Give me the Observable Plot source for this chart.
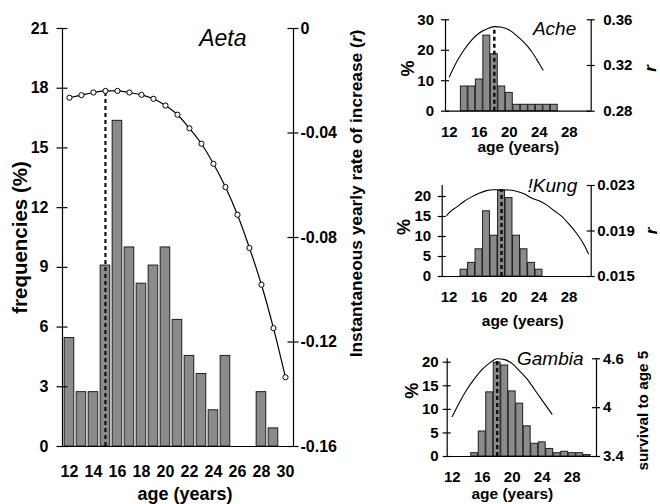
<!DOCTYPE html>
<html><head><meta charset="utf-8">
<script src="https://cdn.jsdelivr.net/npm/d3@7"></script>
<script src="https://cdn.jsdelivr.net/npm/@observablehq/plot@0.6"></script>
<style>
body{margin:0;background:#fff;}
#chart{position:relative;width:660px;height:504px;background:#fff;}
#chart svg{position:absolute;left:0;top:0;}
</style></head><body><div id="chart"></div>
<script>
// ---------- DATA ----------
// Aeta (main panel)
const aetaAges = [12,13,14,15,16,17,18,19,20,21,22,23,24,25,26,27,28,29];
const aetaFreq = [5.45,2.73,2.73,9.09,16.36,10.0,8.18,9.09,10.0,6.36,4.55,3.64,1.82,4.55,0,0,2.73,0.91];
const aetaRAges = [12,13,14,15,16,17,18,19,20,21,22,23,24,25,26,27,28,29,30];
const aetaR = [-0.0265,-0.0255,-0.0245,-0.0239,-0.0239,-0.0245,-0.0254,-0.0269,-0.0295,-0.0330,-0.0382,-0.0441,-0.0518,-0.0607,-0.0713,-0.0840,-0.0981,-0.1147,-0.1335];
const aetaPeak = 15;
const aetaLeftTicks = [0,3,6,9,12,15,18,21];
const aetaRightTicks = [-0.16,-0.12,-0.08,-0.04,0];
const aetaXTicks = [12,14,16,18,20,22,24,26,28,30];

// Ache
const acheAges = [14,15,16,17,18,19,20,21,22,23,24,25,26];
const acheFreq = [8.1,8.1,10.4,24.8,18.7,8.1,6.0,2.1,2.1,2.1,2.1,2.1,2.1];
const acheRAges = [12,13,14,15,16,17,18,19,20,21,22,23,24,24.5];
const acheR = [0.310,0.3235,0.334,0.3425,0.3485,0.352,0.354,0.3535,0.351,0.346,0.340,0.332,0.3215,0.316];
const achePeak = 18;
const acheLeftTicks = [0,10,20,30];
const acheRightTicks = [0.28,0.32,0.36];

// !Kung
const kungAges = [14,15,16,17,18,19,20,21,22,23,24];
const kungFreq = [1.7,3.4,6.8,16.3,10.2,21.4,19.6,10.2,6.8,3.4,1.7];
const kungRAges = [11.7,12,13,14,15,16,17,18,19,20,21,22,23,24,25,26,27,28,29,30,30.6];
const kungR = [0.02036,0.0206,0.0211,0.0216,0.0220,0.02232,0.02255,0.02262,0.02263,0.0226,0.0225,0.02228,0.0219,0.02165,0.0213,0.0208,0.0203,0.0196,0.0188,0.0178,0.0170];
const kungPeak = 19;
const kungLeftTicks = [0,5,10,15,20];
const kungRightTicks = [0.015,0.019,0.023];

// Gambia
const gambiaAges = [15,16,17,18,19,20,21,22,23,24,25,26,27,28,29,30];
const gambiaFreq = [0.7,5.3,13.6,19.9,19.3,13.8,11.2,6.4,2.7,3.0,1.6,0.7,1.0,0.7,0.7,0.3];
const gambiaSAges = [12,13,14,15,16,17,18,19,20,21,22,23,24,25,25.3];
const gambiaS = [3.89,4.07,4.23,4.36,4.47,4.55,4.60,4.59,4.54,4.45,4.35,4.22,4.09,3.96,3.92];
const gambiaPeak = 18;
const gambiaLeftTicks = [0,5,10,15,20];
const gambiaRightTicks = [3.4,4,4.6];

const smallXTicks = [12,16,20,24,28];

// ---------- RENDER ----------
const W = 660, H = 504;
const FONT = "'Liberation Sans', Arial, Helvetica, sans-serif";
const BAR = "#8a8b8d", EDGE = "#1e1e1e";
const RIGHT_LABEL = "Instantaneous yearly rate of increase (r)";
const chart = document.getElementById("chart");

function zip(a, b, ka, kb) { return a.map((v, i) => ({[ka]: v, [kb]: b[i]})); }

function makePlot(frame, xDomain, yDomain, marks) {
  return Plot.plot({
    width: W, height: H,
    marginLeft: frame.l, marginRight: W - frame.r, marginTop: frame.t, marginBottom: H - frame.b,
    x: {domain: xDomain, axis: null},
    y: {domain: yDomain, axis: null},
    style: {background: "transparent", fontFamily: FONT, overflow: "visible", color: "black"},
    marks
  });
}

function panel(p) {
  const f = p.frame;
  const pxX = (f.r - f.l) / (p.xDomain[1] - p.xDomain[0]);
  const h = p.tick / pxX;
  const x0 = p.xDomain[0], x1 = p.xDomain[1];
  const bars = zip(p.ages, p.freq, "age", "v").filter(d => d.v > 0);
  const curve = zip(p.rAges, p.r, "age", "r");
  const peakVal = p.r[p.rAges.indexOf(p.peak)];
  const txt = (s, o) => Plot.text([s], {text: d => d, fill: "black", fontFamily: FONT,
    textAnchor: "middle", lineAnchor: "middle", ...o});

  const leftMarks = [
    Plot.rectY(bars, {x1: d => d.age - p.barHalf, x2: d => d.age + p.barHalf, y1: 0, y2: "v",
      fill: BAR, stroke: EDGE, strokeWidth: 1}),
    Plot.ruleY([p.leftDomain[0]], {stroke: "black", strokeWidth: 1.2}),
    Plot.ruleX([x0], {stroke: "black", strokeWidth: 1.2}),
    Plot.ruleY(p.leftTicks, {y: d => d, x1: x0 - h, x2: x0 + h, stroke: "black", strokeWidth: 1.2}),
    Plot.axisY({ticks: p.leftTicks, tickSize: 0, tickPadding: p.leftPad, label: null,
      fontSize: p.tickFont, fontWeight: "bold", fontFamily: FONT}),
    Plot.axisX({ticks: p.xTicks, tickSize: 0, tickPadding: p.xPad, label: null,
      fontSize: p.tickFont, fontWeight: "bold", fontFamily: FONT}),
    ...p.labels.map(l => txt(l.s, l.o))
  ];
  const rightMarks = [
    Plot.ruleX([x1], {stroke: "black", strokeWidth: 1.2}),
    Plot.ruleY(p.rightTicks, {y: d => d, x1: x1 - h, x2: x1 + h, stroke: "black", strokeWidth: 1.2}),
    Plot.axisY({anchor: "right", ticks: p.rightTicks, tickSize: 0, tickPadding: p.rightPad, label: null,
      tickFormat: p.rightFormat, fontSize: p.tickFont, fontWeight: "bold", fontFamily: FONT}),
    Plot.ruleX([p.peak], {y1: p.rightDomain[0], y2: peakVal, stroke: "#111",
      strokeWidth: p.dashWidth, strokeDasharray: p.dash}),
    Plot.line(curve, {x: "age", y: "r", stroke: "black", strokeWidth: p.lineWidth, curve: "monotone-x"}),
    ...(p.dots ? [Plot.dot(curve, {x: "age", y: "r", r: 2.6, fill: "white", stroke: "black", strokeWidth: 1})] : [])
  ];
  const a = makePlot(f, p.xDomain, p.leftDomain, leftMarks);
  const b = makePlot(f, p.xDomain, p.rightDomain, rightMarks);
  chart.appendChild(a);
  chart.appendChild(b);
  [a, b].forEach(svg => svg.querySelectorAll("text").forEach(t => {
    if (t.textContent === RIGHT_LABEL) {
      while (t.firstChild) t.removeChild(t.firstChild);
      t.appendChild(document.createTextNode("Instantaneous yearly rate of increase ("));
      const ts = document.createElementNS("http://www.w3.org/2000/svg", "tspan");
      ts.setAttribute("font-style", "italic");
      ts.textContent = "r";
      t.appendChild(ts);
      t.appendChild(document.createTextNode(")"));
    }
  }));
}

const fmt2 = d => d === 0 ? "0" : d.toFixed(2);

// Main Aeta panel
panel({
  frame: {l: 62, r: 293, t: 28, b: 446},
  xDomain: [11.42, 30.67], leftDomain: [0, 21], rightDomain: [-0.16, 0],
  ages: aetaAges, freq: aetaFreq, rAges: aetaRAges, r: aetaR, peak: aetaPeak,
  leftTicks: aetaLeftTicks, rightTicks: aetaRightTicks, xTicks: aetaXTicks,
  rightFormat: fmt2, tick: 5.5, barHalf: 0.4, tickFont: 16,
  leftPad: 14, rightPad: 7, xPad: 19,
  dash: "4,3", dashWidth: 2.2, lineWidth: 1.2, dots: true,
  labels: [
    {s: "frequencies (%)", o: {frameAnchor: "left", dx: -42, rotate: -90, fontSize: 20.5, fontWeight: "bold"}},
    {s: RIGHT_LABEL, o: {frameAnchor: "right", dx: 63, dy: -44, rotate: -90, fontSize: 17.3, fontWeight: "bold"}},
    {s: "Aeta", o: {frameAnchor: "top-right", dx: -47, dy: 10, textAnchor: "end", fontSize: 23, fontStyle: "italic"}},
    {s: "age (years)", o: {frameAnchor: "bottom", dx: 7, dy: 48, fontSize: 18, fontWeight: "bold"}}
  ]
});

// Ache
panel({
  frame: {l: 445, r: 590.7, t: 19.3, b: 110.7},
  xDomain: [11.49, 30.92], leftDomain: [0, 30], rightDomain: [0.28, 0.36],
  ages: acheAges, freq: acheFreq, rAges: acheRAges, r: acheR, peak: achePeak,
  leftTicks: acheLeftTicks, rightTicks: acheRightTicks, xTicks: smallXTicks,
  rightFormat: fmt2, tick: 4, barHalf: 0.46, tickFont: 15,
  leftPad: 11.5, rightPad: 12, xPad: 15,
  dash: "4,3", dashWidth: 2.5, lineWidth: 1.1, dots: false,
  labels: [
    {s: "%", o: {frameAnchor: "left", dx: -37, dy: 3, rotate: -90, fontSize: 18, fontWeight: "bold"}},
    {s: "r", o: {frameAnchor: "right", dx: 59, dy: 3, rotate: -90, fontSize: 17, fontWeight: "bold", fontStyle: "italic"}},
    {s: "Ache", o: {frameAnchor: "top-right", dx: -15, dy: 9.5, textAnchor: "end", fontSize: 19, fontStyle: "italic"}},
    {s: "age (years)", o: {frameAnchor: "bottom", dx: 0, dy: 36, fontSize: 15.5, fontWeight: "bold"}}
  ]
});

// !Kung
panel({
  frame: {l: 441.7, r: 590.7, t: 185, b: 276},
  xDomain: [11.09, 30.96], leftDomain: [0, 22.75], rightDomain: [0.015, 0.023],
  ages: kungAges, freq: kungFreq, rAges: kungRAges, r: kungR, peak: kungPeak,
  leftTicks: kungLeftTicks, rightTicks: kungRightTicks, xTicks: smallXTicks,
  rightFormat: d => d.toFixed(3), tick: 4, barHalf: 0.46, tickFont: 15,
  leftPad: 11, rightPad: 6, xPad: 15,
  dash: "4,3", dashWidth: 2.5, lineWidth: 1.1, dots: false,
  labels: [
    {s: "%", o: {frameAnchor: "left", dx: -38, dy: -4, rotate: -90, fontSize: 18, fontWeight: "bold"}},
    {s: "r", o: {frameAnchor: "right", dx: 60, dy: 0, rotate: -90, fontSize: 17, fontWeight: "bold", fontStyle: "italic"}},
    {s: "!Kung", o: {frameAnchor: "top-right", dx: -14, dy: 0, textAnchor: "end", fontSize: 19, fontStyle: "italic"}},
    {s: "age (years)", o: {frameAnchor: "bottom", dx: 6, dy: 45, fontSize: 15.5, fontWeight: "bold"}}
  ]
});

// Gambia
panel({
  frame: {l: 446.7, r: 596, t: 358.3, b: 456},
  xDomain: [11.33, 31.24], leftDomain: [0, 20.72], rightDomain: [3.4, 4.6],
  ages: gambiaAges, freq: gambiaFreq, rAges: gambiaSAges, r: gambiaS, peak: gambiaPeak,
  leftTicks: gambiaLeftTicks, rightTicks: gambiaRightTicks, xTicks: smallXTicks,
  rightFormat: d => String(d), tick: 4, barHalf: 0.46, tickFont: 15,
  leftPad: 8.5, rightPad: 6.5, xPad: 15,
  dash: "4,3", dashWidth: 2.5, lineWidth: 1.1, dots: false,
  labels: [
    {s: "%", o: {frameAnchor: "left", dx: -35, dy: -17, rotate: -90, fontSize: 18, fontWeight: "bold"}},
    {s: "survival to age 5", o: {frameAnchor: "right", dx: 47, dy: 3, rotate: -90, fontSize: 15.3, fontWeight: "bold"}},
    {s: "Gambia", o: {frameAnchor: "top-right", dx: -13, dy: 0, textAnchor: "end", fontSize: 19, fontStyle: "italic"}},
    {s: "age (years)", o: {frameAnchor: "bottom", dx: -9.5, dy: 38, fontSize: 15.5, fontWeight: "bold"}}
  ]
});
</script></body></html>
